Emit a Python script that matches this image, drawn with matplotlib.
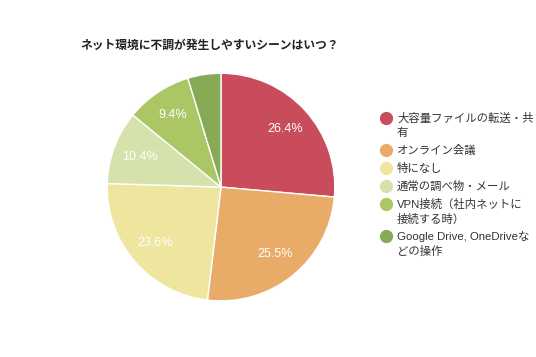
import matplotlib.pyplot as plt

plt.rcParams['font.family'] = ['Liberation Sans', 'Noto Sans CJK JP', 'DejaVu Sans']

# Data
labels = ["大容量ファイルの転送・共\n有", "オンライン会議", "特になし", "通常の調べ物・メール",
          "VPN接続（社内ネットに\n接続する時）", "Google Drive, OneDriveな\nどの操作"]
values = [26.4, 25.5, 23.6, 10.4, 9.4, 4.7]
colors = ["#C94C5D", "#E8AC68", "#EEE59E", "#D5E2AC", "#ABC664", "#86AA55"]

W, H = 536, 357
fig = plt.figure(figsize=(W / 100, H / 100), dpi=100)
ax = fig.add_axes([0.1978, 0.154, 0.429, 0.644])

def fmt(p):
    return "%.1f%%" % p if p > 5 else ""

wedges, texts, autotexts = ax.pie(values, colors=colors, startangle=90, counterclock=False,
                                  autopct=fmt, pctdistance=0.76, radius=1,
                                  wedgeprops=dict(edgecolor="white", linewidth=1))
for t in autotexts:
    t.set_color("white")
    t.set_fontsize(9)
ax.set_xlim(-1.01, 1.01)
ax.set_ylim(-1.01, 1.01)
ax.set_aspect("equal")

fig.text(80 / W, 1 - 46 / H, "ネット環境に不調が発生しやすいシーンはいつ？",
         fontsize=8.5, fontweight="bold", va="center", ha="left", color="#222222")

# legend drawn by hand: circle marker + (possibly wrapped) label
lax = fig.add_axes([0, 0, 1, 1])
lax.set_xlim(0, W)
lax.set_ylim(H, 0)
lax.axis("off")
y = 118
for lab, c in zip(labels, colors):
    lax.plot(386, y, marker="o", markersize=8.5, color=c, linestyle="")
    lax.text(397, y - 5, lab, fontsize=8.2, va="top", ha="left", color="#333333",
             linespacing=1.4)
    y += 18 + 14 * lab.count("\n")

fig.savefig("out.png", dpi=100, facecolor="white")
